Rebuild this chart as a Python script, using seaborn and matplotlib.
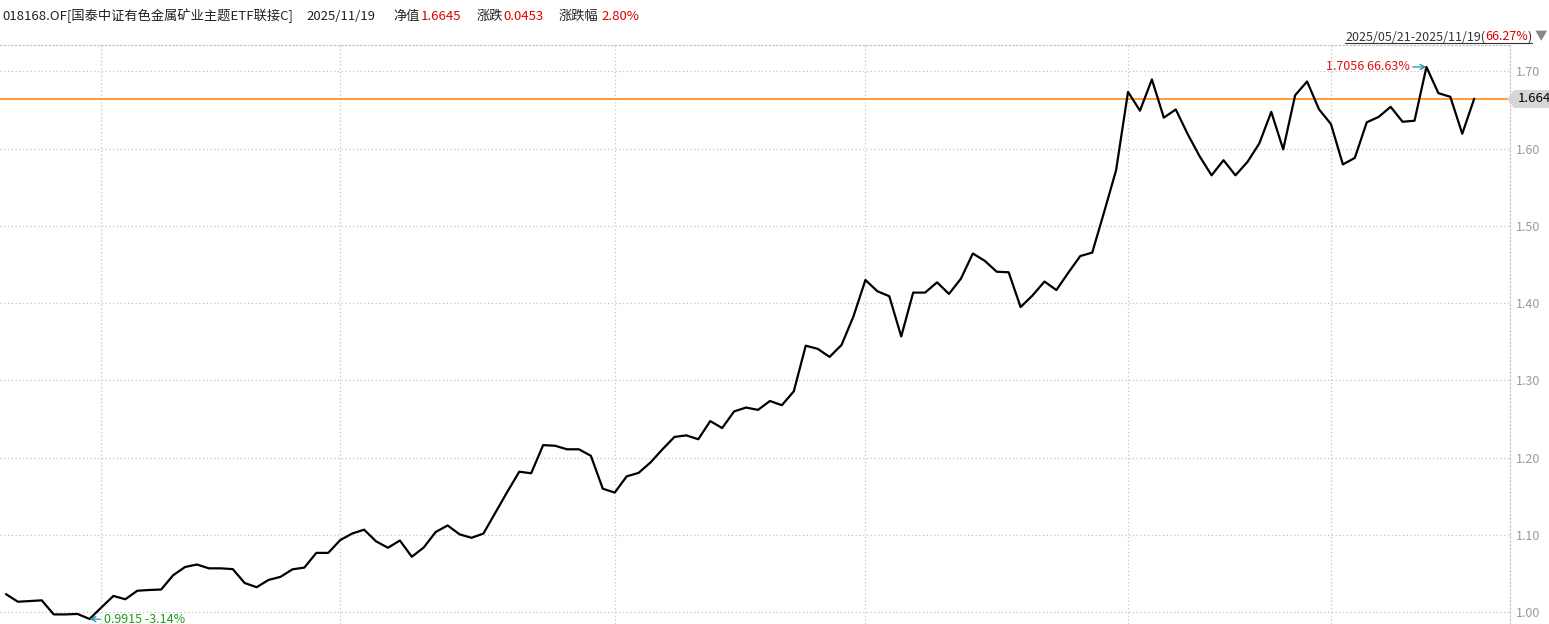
import matplotlib
matplotlib.use("Agg")
import matplotlib.pyplot as plt
import numpy as np
import pandas as pd
import seaborn as sns
from matplotlib.patches import Polygon
from matplotlib.lines import Line2D

# 基金信息
fund_name = "018168.OF[国泰中证有色金属矿业主题ETF联接C]"
last_date = "2025/11/19"
nav_last = 1.6645
nav_change = "0.0453"
nav_change_pct = "2.80%"
range_text = "2025/05/21-2025/11/19("
range_pct = "66.27%"

# 交易日 (剔除端午、国庆假期)
holidays = pd.to_datetime(["2025-06-02", "2025-10-01", "2025-10-02", "2025-10-03",
                           "2025-10-06", "2025-10-07", "2025-10-08"])
dates = pd.bdate_range("2025-05-21", "2025-11-19")
dates = dates[~dates.isin(holidays)]

# 单位净值
nav = [
    1.0236, 1.0138, 1.0147, 1.0156, 0.9974, 0.9974, 0.9980, 0.9915, 1.0065, 1.0213,
    1.0170, 1.0280, 1.0290, 1.0296, 1.0480, 1.0587, 1.0620, 1.0570, 1.0570, 1.0560,
    1.0380, 1.0326, 1.0420, 1.0460, 1.0557, 1.0580, 1.0770, 1.0770, 1.0935, 1.1020,
    1.1070, 1.0920, 1.0836, 1.0930, 1.0720, 1.0840, 1.1040, 1.1125, 1.1010, 1.0965,
    1.1020, 1.1290, 1.1560, 1.1820, 1.1800, 1.2164, 1.2156, 1.2110, 1.2110, 1.2026,
    1.1600, 1.1550, 1.1760, 1.1805, 1.1940, 1.2110, 1.2270, 1.2290, 1.2240, 1.2475,
    1.2385, 1.2600, 1.2650, 1.2620, 1.2735, 1.2680, 1.2860, 1.3450, 1.3410, 1.3305,
    1.3460, 1.3830, 1.4300, 1.4155, 1.4090, 1.3570, 1.4137, 1.4137, 1.4270, 1.4120,
    1.4317, 1.4643, 1.4548, 1.4407, 1.4400, 1.3950, 1.4100, 1.4280, 1.4170, 1.4395,
    1.4610, 1.4654, 1.5180, 1.5720, 1.6734, 1.6490, 1.6894, 1.6400, 1.6506, 1.6187,
    1.5900, 1.5654, 1.5850, 1.5654, 1.5826, 1.6067, 1.6475, 1.5990, 1.6690, 1.6868,
    1.6508, 1.6317, 1.5795, 1.5880, 1.6340, 1.6410, 1.6540, 1.6347, 1.6360, 1.7056,
    1.6717, 1.6670, 1.6192, 1.6645,
]
y_ticks = [1.00, 1.10, 1.20, 1.30, 1.40, 1.50, 1.60, 1.70]

df = pd.DataFrame({"date": dates, "nav": nav})
df["i"] = np.arange(len(df))
month_starts = df.groupby(df["date"].dt.to_period("M"))["i"].min().iloc[1:].tolist()

W, H = 1549, 624
sns.set_style("white")
plt.rcParams["font.family"] = ["Noto Sans CJK SC", "DejaVu Sans"]


def fx(px):
    return px / W


def fy(py):
    return 1 - py / H


fig = plt.figure(figsize=(W / 100, H / 100), dpi=100)
ax = fig.add_axes([0, 0, fx(1510), fy(45)])

grid_kw = dict(color="#c4c4c4", lw=0.9, ls=(0, (1, 2)))
for y in y_ticks:
    ax.axhline(y, zorder=0, **grid_kw)
for m in month_starts:
    ax.axvline(m, zorder=0, **grid_kw)

ax.axhline(nav_last, color="#ff8000", lw=1.1, zorder=2)
sns.lineplot(data=df, x="i", y="nav", color="black", lw=1.6, ax=ax, zorder=3)

ax.set_xlim(-0.5, 126)
ax.set_ylim(0.985, 1.734)
ax.set_xticks([])
ax.set_yticks(y_ticks)
ax.set_yticklabels([f"{v:.2f}" for v in y_ticks])
ax.yaxis.tick_right()
ax.tick_params(axis="y", length=0, pad=4, labelsize=9, labelcolor="#9a9a9a")
ax.set_xlabel("")
ax.set_ylabel("")
for s in ["left", "bottom"]:
    ax.spines[s].set_visible(False)
for s in ["top", "right"]:
    ax.spines[s].set_color("#c4c4c4")
    ax.spines[s].set_linestyle((0, (1, 2)))
    ax.spines[s].set_linewidth(0.9)

# 最高 / 最低 标注
base = nav[0]
imax, imin = int(np.argmax(nav)), int(np.argmin(nav))
ax.annotate(f"{nav[imax]:.4f} {(nav[imax] / base - 1) * 100:.2f}%",
            xy=(imax, nav[imax]), xytext=(-17, 0), textcoords="offset pixels",
            ha="right", va="center", fontsize=9, color="#e0101a",
            arrowprops=dict(arrowstyle="->", color="#2a8ab0", lw=0.9,
                            shrinkA=0, shrinkB=0))
ax.annotate(f"{nav[imin]:.4f} {(nav[imin] / base - 1) * 100:.2f}%",
            xy=(imin, nav[imin]), xytext=(14, -1), textcoords="offset pixels",
            ha="left", va="center", fontsize=9, color="#1a9a1a",
            arrowprops=dict(arrowstyle="->", color="#2a8ab0", lw=0.9,
                            shrinkA=0, shrinkB=0))

# 顶部信息栏
hy = fy(16)
red = "#dd0000"
dark = "#222222"
header = [
    (2, fund_name, dark), (306, last_date, dark), (393, "净值", dark),
    (421, f"{nav_last:.4f}", red), (477, "涨跌", dark), (503, nav_change, red),
    (559, "涨跌幅", dark), (601, nav_change_pct, red),
]
for px, txt, c in header:
    fig.text(fx(px), hy, txt, ha="left", va="center", fontsize=9.5, color=c)

# 区间涨幅 (从右向左排)
renderer = fig.canvas.get_renderer()
ry = fy(37)
right_px = 1532
for txt, c in [(")", "#333333"), (range_pct, red), (range_text, "#333333")]:
    t = fig.text(fx(right_px), ry, txt, ha="right", va="center", fontsize=9, color=c)
    right_px = t.get_window_extent(renderer).x0
fig.add_artist(Line2D([fx(right_px), fx(1532)], [fy(43), fy(43)], color="#333333", lw=0.8))
fig.text(fx(1541), ry, "▼", ha="center", va="center", fontsize=9, color="#888888")

# 最新值标签
box = Polygon([(fx(1507), fy(99)), (fx(1514), fy(90)), (fx(1549), fy(90)),
               (fx(1549), fy(108)), (fx(1514), fy(108))],
              closed=True, facecolor="#d6d6d6", edgecolor="none",
              transform=fig.transFigure)
fig.add_artist(box)
fig.text(fx(1518), fy(99), f"{nav_last:.4f}"[:5], ha="left", va="center",
         fontsize=9.5, color="black")

fig.savefig("out.png", dpi=100)
